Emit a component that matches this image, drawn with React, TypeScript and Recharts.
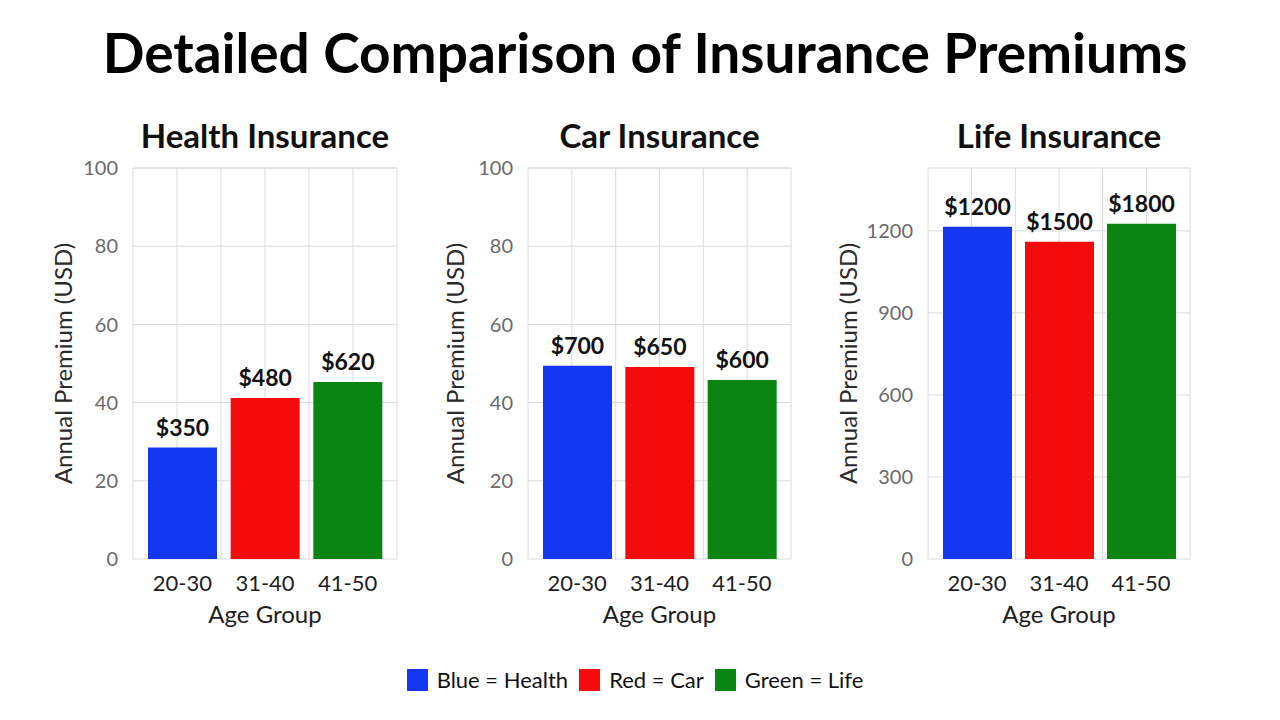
import { Bar, BarChart, CartesianGrid, Cell, LabelList, XAxis, YAxis } from 'recharts';

const categories = ['20-30', '31-40', '41-50'];

const healthValues = [28.5, 41.2, 45.3];
const carValues = [49.4, 49.1, 45.8];
const lifeValues = [1215, 1160, 1226];

const healthLabels = ['$350', '$480', '$620'];
const carLabels = ['$700', '$650', '$600'];
const lifeLabels = ['$1200', '$1500', '$1800'];

const healthTicks = [0, 20, 40, 60, 80, 100];
const carTicks = [0, 20, 40, 60, 80, 100];
const lifeTicks = [0, 300, 600, 900, 1200];

const barColors = ['#1437f2', '#f50b0b', '#0a8412'];
const legendNames = ['Blue = Health', 'Red = Car', 'Green = Life'];

const FONT = 'Lato, "Open Sans", sans-serif';

type PanelProps = {
	title: string;
	values: number[];
	labels: string[];
	ticks: number[];
	domainMax: number;
	left: number;
	width: number;
	axisWidth: number;
	labelDx: number;
};

const Panel = ({ title, values, labels, ticks, domainMax, left, width, axisWidth, labelDx }: PanelProps) => {
	const data = categories.map((age, i) => ({ age, value: values[i], label: labels[i] }));
	const plotWidth = width - axisWidth - 5;

	return (
		<>
			<div
				style={{
					position: 'absolute',
					left: left + axisWidth - 20,
					top: 114,
					width: plotWidth + 40,
					textAlign: 'center',
					fontFamily: FONT,
					fontWeight: 700,
					fontSize: 33,
					lineHeight: '42px',
					color: '#111',
				}}
			>
				{title}
			</div>
			<div style={{ position: 'absolute', left, top: 150 }}>
				<BarChart
					width={width}
					height={479}
					data={data}
					margin={{ top: 18, right: 5, bottom: 0, left: 0 }}
				>
					<CartesianGrid
						stroke='#dadada'
						verticalCoordinatesGenerator={({ offset }: any) =>
							[0, 1, 2, 3, 4, 5, 6].map((i) => offset.left + (offset.width * i) / 6)
						}
						horizontalCoordinatesGenerator={({ offset }: any) =>
							[...ticks, domainMax].map((t) => offset.top + offset.height * (1 - t / domainMax))
						}
					/>
					<XAxis
						dataKey='age'
						height={70}
						padding={{ left: 8, right: 8 }}
						axisLine={false}
						tickLine={false}
						tickSize={0}
						tickMargin={16}
						tick={{ fill: '#1e1e1e', fontSize: 22, fontFamily: FONT }}
						label={{
							value: 'Age Group',
							position: 'insideBottom',
							offset: 6,
							fill: '#1e1e1e',
							fontSize: 24,
							fontFamily: FONT,
						}}
					/>
					<YAxis
						type='number'
						width={axisWidth}
						domain={[0, domainMax]}
						ticks={ticks}
						interval={0}
						axisLine={false}
						tickLine={false}
						tickSize={0}
						tickMargin={15}
						tick={{ fill: '#6a6a6a', fontSize: 20, fontFamily: FONT }}
						label={{
							value: 'Annual Premium (USD)',
							angle: -90,
							position: 'center',
							dx: labelDx,
							fill: '#2a2a2a',
							fontSize: 24,
							fontFamily: FONT,
						}}
					/>
					<Bar dataKey='value' barSize={69} isAnimationActive={false}>
						{data.map((d, i) => (
							<Cell key={d.age} fill={barColors[i]} />
						))}
						<LabelList
							dataKey='label'
							position='top'
							offset={12}
							fill='#111'
							fontSize={23}
							fontWeight={700}
							fontFamily={FONT}
						/>
					</Bar>
				</BarChart>
			</div>
		</>
	);
};

export default function App() {
	return (
		<div
			style={{
				position: 'absolute',
				left: 0,
				top: 0,
				width: 1280,
				height: 720,
				background: '#fff',
				overflow: 'hidden',
			}}
		>
			<div
				style={{
					position: 'absolute',
					left: 0,
					top: 20,
					width: 1290,
					textAlign: 'center',
					fontFamily: FONT,
					fontWeight: 700,
					fontSize: 55,
					lineHeight: '64px',
					color: '#000',
				}}
			>
				Detailed Comparison of Insurance Premiums
			</div>

			<Panel
				title='Health Insurance'
				values={healthValues}
				labels={healthLabels}
				ticks={healthTicks}
				domainMax={100}
				left={0}
				width={402}
				axisWidth={133}
				labelDx={-3}
			/>
			<Panel
				title='Car Insurance'
				values={carValues}
				labels={carLabels}
				ticks={carTicks}
				domainMax={100}
				left={400}
				width={396}
				axisWidth={128}
				labelDx={-9}
			/>
			<Panel
				title='Life Insurance'
				values={lifeValues}
				labels={lifeLabels}
				ticks={lifeTicks}
				domainMax={1430}
				left={800}
				width={395}
				axisWidth={128}
				labelDx={-16}
			/>

			<div
				style={{
					position: 'absolute',
					left: 0,
					top: 666,
					width: 1270,
					display: 'flex',
					justifyContent: 'center',
					alignItems: 'center',
					gap: 11,
					fontFamily: FONT,
					fontSize: 22,
					color: '#111',
				}}
			>
				{legendNames.map((name, i) => (
					<div key={name} style={{ display: 'flex', alignItems: 'center', gap: 9 }}>
						<span style={{ width: 21, height: 22, background: barColors[i], display: 'inline-block' }} />
						<span>{name}</span>
					</div>
				))}
			</div>
		</div>
	);
}
